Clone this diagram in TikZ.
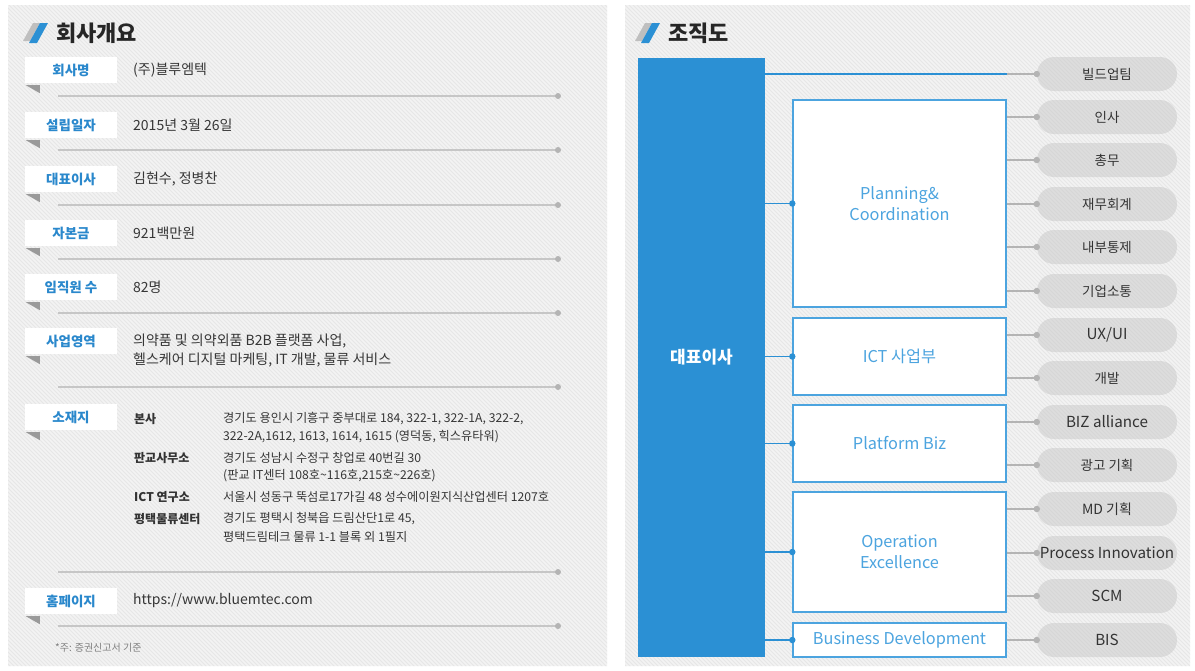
\documentclass[tikz,border=0pt]{standalone}
\usepackage{fontspec}
\setmainfont{Noto Sans CJK KR}
\definecolor{panelbg}{HTML}{F3F3F3}
\definecolor{stripec}{HTML}{E6E6E6}
\definecolor{ceoblue}{HTML}{2B90D4}
\definecolor{deptblue}{HTML}{4CA4DF}
\definecolor{labblue}{HTML}{2A88CC}
\definecolor{valgray}{HTML}{363636}
\definecolor{linegray}{HTML}{C6C6C6}
\definecolor{dotgray}{HTML}{B4B4B4}
\definecolor{triggray}{HTML}{9A9A9A}
\definecolor{pillgray}{HTML}{C4C4C4}
\begin{document}
\begin{tikzpicture}[x=1pt,y=-1pt,
  title/.style={anchor=west,inner sep=0,text=black!85,font=\fontsize{22}{25}\selectfont\bfseries},
  labbox/.style={rectangle,fill=white,minimum width=92,minimum height=26,inner sep=0,
    text=labblue,font=\fontsize{13.5}{16}\selectfont\bfseries},
  valtext/.style={anchor=west,inner sep=0,text=valgray,font=\fontsize{14}{17}\selectfont},
  addrlab/.style={anchor=west,inner sep=0,text=black!80,font=\fontsize{12}{14}\selectfont\bfseries},
  addrval/.style={anchor=west,inner sep=0,text=valgray,font=\fontsize{12.2}{14}\selectfont},
  rowline/.style={draw=linegray,line width=1.8pt},
  rowdot/.style={fill=dotgray},
  ceobox/.style={rectangle,fill=ceoblue,inner sep=0,minimum width=127,minimum height=599,
    text=white,font=\fontsize{17}{20}\selectfont\bfseries},
  dept/.style={rectangle,draw=deptblue,line width=1.4pt,fill=white,inner sep=0,
    minimum width=213,text=deptblue,align=center,font=\fontsize{16.3}{21}\selectfont},
  pill/.style={rectangle,rounded corners=17,fill=pillgray,fill opacity=0.45,text opacity=1,
    minimum width=140,minimum height=34,inner sep=0,text=black!80,font=\fontsize{13.5}{16}\selectfont},
  latinpill/.style={pill,font=\fontsize{15.2}{17}\selectfont},
  bluelink/.style={draw=ceoblue,line width=1.3pt},
  graylink/.style={draw=dotgray,line width=1.3pt},
  stripe/.style={draw=stripec,line width=1pt}]
\useasboundingbox (0,0) rectangle (1195,670);
\fill[white] (0,0) rectangle (1195,670);

% hatched backdrop of both panels
\begin{scope}
  \clip (8,5) rectangle (607,666) (625,5) rectangle (1190,666);
  \fill[panelbg] (0,0) rectangle (1195,670);
  \foreach \k in {-672,-668,...,1196} \draw[stripe] (\k,0) -- ++(670,670);
\end{scope}

% section headings with slanted marks
\fill[black!25] (23,41) -- (30,41) -- (40,23) -- (33,23) -- cycle;
\fill[ceoblue] (29,43) -- (37,43) -- (48,23) -- (40,23) -- cycle;
\node[title] (head1) at (56,33) {회사개요};
\fill[black!25] (635,41) -- (642,41) -- (652,23) -- (645,23) -- cycle;
\fill[ceoblue] (641,43) -- (649,43) -- (660,23) -- (652,23) -- cycle;
\node[title] (head2) at (668,33) {조직도};

% company profile rows
\foreach \lab/\val/\y/\ly [count=\i] in {
  회사명/(주)블루엠텍/70/96,
  설립일자/2015년 3월 26일/125/150,
  대표이사/{김현수, 정병찬}/179/205,
  자본금/921백만원/233/259,
  임직원 수/82명/287/313,
  사업영역/{}/341/387,
  소재지/{}/417/572} {
  \node[labbox] (lab\i) at (71,\y) {\lab};
  \fill[triggray] ([xshift=1pt,yshift=-2pt]lab\i.south west) -- ++(14,0) -- ++(0,8) -- cycle;
  \node[valtext] (val\i) at (133,\y) {\val};
  \coordinate (ls\i) at (58,\ly);
  \coordinate (le\i) at (558,\ly);
  \draw[rowline] (ls\i) -- (le\i);
  \fill[rowdot] (le\i) circle (3);
}
\node[valtext] (biz1) at (133,341) {의약품 및 의약외품 B2B 플랫폼 사업,};
\node[valtext] (biz2) at (133,360) {헬스케어 디지털 마케팅, IT 개발, 물류 서비스};

% locations
\node[addrlab] (hq) at (134,419) {본사};
\node[addrval] (hq1) at (223,419) {경기도 용인시 기흥구 중부대로 184, 322-1, 322-1A, 322-2,};
\node[addrval] (hq2) at (223,437) {322-2A,1612, 1613, 1614, 1615 (영덕동, 힉스유타워)};
\node[addrlab] (pg) at (134,458) {판교사무소};
\node[addrval] (pg1) at (223,458) {경기도 성남시 수정구 창업로 40번길 30};
\node[addrval] (pg2) at (223,476) {(판교 IT센터 108호\textasciitilde 116호,215호\textasciitilde 226호)};
\node[addrlab] (ict) at (134,497) {ICT 연구소};
\node[addrval] (ict1) at (223,497) {서울시 성동구 뚝섬로17가길 48 성수에이원지식산업센터 1207호};
\node[addrlab] (pt) at (134,519) {평택물류센터};
\node[addrval] (pt1) at (223,519) {경기도 평택시 청북읍 드림산단1로 45,};
\node[addrval] (pt2) at (223,537) {평택드림테크 물류 1-1 블록 외 1필지};

% homepage row
\node[labbox] (lab8) at (71,601) {홈페이지};
\fill[triggray] ([xshift=1pt,yshift=-2pt]lab8.south west) -- ++(14,0) -- ++(0,8) -- cycle;
\node[valtext] (val8) at (133,601) {https://www.bluemtec.com};
\coordinate (ls8) at (58,626);
\coordinate (le8) at (558,626);
\draw[rowline] (ls8) -- (le8);
\fill[rowdot] (le8) circle (3);
\node[anchor=west,inner sep=0,text=black!50,font=\fontsize{10}{12}\selectfont] (note) at (55,648) {*주: 증권신고서 기준};

% organisation chart
\node[ceobox] (ceo) at (701.5,357.5) {대표이사};
\node[dept,minimum height=207] (plan) at (899.5,203.5) {Planning\&\\Coordination};
\node[dept,minimum height=77] (ict) at (899.5,356.5) {ICT 사업부};
\node[dept,minimum height=77] (plat) at (899.5,443.5) {Platform Biz};
\node[dept,minimum height=120] (oper) at (899.5,552) {Operation\\Excellence};
\node[dept,minimum height=34] (bd) at (899.5,640) {Business Development};

\foreach \d in {plan,ict,plat,oper,bd} {
  \draw[bluelink] (ceo.east |- \d.west) -- (\d.west);
  \fill[ceoblue] (\d.west) circle (3.2);
}

% teams
\node[pill] (t1) at (1107,74) {빌드업팀};
\node[pill] (t2) at (1107,117) {인사};
\node[pill] (t3) at (1107,160) {총무};
\node[pill] (t4) at (1107,204) {재무회계};
\node[pill] (t5) at (1107,247) {내부통제};
\node[pill] (t6) at (1107,291) {기업소통};
\node[latinpill] (t7) at (1107,335) {UX/UI};
\node[pill] (t8) at (1107,378) {개발};
\node[latinpill] (t9) at (1107,422) {BIZ alliance};
\node[pill] (t10) at (1107,465) {광고 기획};
\node[pill,font=\fontsize{14}{16}\selectfont] (t11) at (1107,509) {MD 기획};
\node[latinpill] (t12) at (1107,553) {Process Innovation};
\node[latinpill] (t13) at (1107,596) {SCM};
\node[latinpill] (t14) at (1107,640) {BIS};

\draw[bluelink] (ceo.east |- t1.west) -- (plan.east |- t1.west);
\draw[graylink] (plan.east |- t1.west) -- (t1.west);
\fill[dotgray] (t1.west) circle (3.2);
\foreach \d/\t in {plan/t2,plan/t3,plan/t4,plan/t5,plan/t6,ict/t7,ict/t8,plat/t9,plat/t10,
                   oper/t11,oper/t12,oper/t13,bd/t14} {
  \draw[graylink] (\d.east |- \t.west) -- (\t.west);
  \fill[dotgray] (\t.west) circle (3.2);
}
\end{tikzpicture}
\end{document}
